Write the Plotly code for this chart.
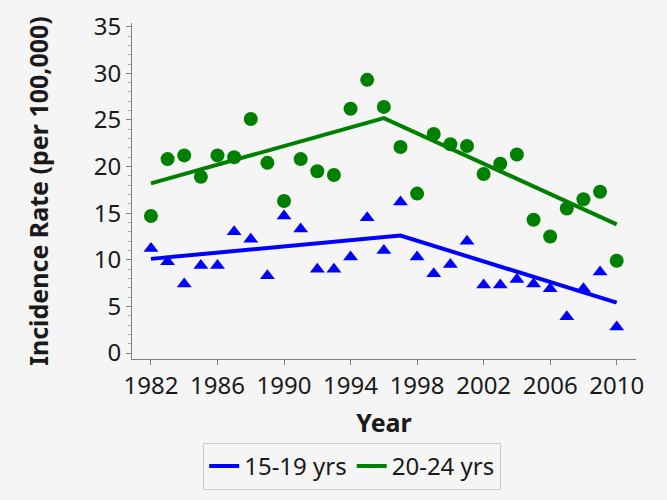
import plotly.graph_objects as go

years = list(range(1982, 2011))

rate_15_19 = [11.2, 9.8, 7.4, 9.4, 9.4, 13.0, 12.2, 8.3, 14.7, 13.3,
              9.0, 9.0, 10.3, 14.5, 11.0, 16.2, 10.3, 8.5, 9.5, 12.0,
              7.3, 7.3, 7.9, 7.4, 6.9, 3.9, 6.9, 8.7, 2.8]
rate_20_24 = [14.7, 20.8, 21.2, 18.9, 21.2, 21.0, 25.1, 20.4, 16.3, 20.8,
              19.5, 19.1, 26.2, 29.3, 26.4, 22.1, 17.1, 23.5, 22.4, 22.2,
              19.2, 20.3, 21.3, 14.3, 12.5, 15.5, 16.5, 17.3, 9.9]

# joinpoint fitted trend lines
fit_years_15_19 = [1982, 1997, 2010]
fit_15_19 = [10.1, 12.6, 5.4]
fit_years_20_24 = [1982, 1996, 2010]
fit_20_24 = [18.2, 25.2, 13.8]

series_names = ["15-19 yrs", "20-24 yrs"]
BLUE = "#0000ff"
GREEN = "#008000"
BG = "#f5f5f5"
FONT = "Noto Sans"

fig = go.Figure()
fig.add_trace(go.Scatter(x=years, y=rate_15_19, mode="markers",
                         marker=dict(symbol="triangle-up", size=13, color=BLUE),
                         showlegend=False, hoverinfo="x+y"))
fig.add_trace(go.Scatter(x=years, y=rate_20_24, mode="markers",
                         marker=dict(symbol="circle", size=14, color=GREEN),
                         showlegend=False, hoverinfo="x+y"))
fig.add_trace(go.Scatter(x=fit_years_15_19, y=fit_15_19, mode="lines",
                         line=dict(color=BLUE, width=4), name=series_names[0]))
fig.add_trace(go.Scatter(x=fit_years_20_24, y=fit_20_24, mode="lines",
                         line=dict(color=GREEN, width=4), name=series_names[1]))

axis_line = "#808080"
fig.update_layout(
    width=667, height=500,
    paper_bgcolor=BG, plot_bgcolor=BG,
    margin=dict(l=132, r=31, t=23, b=141),
    font=dict(family=FONT, color="#1a1a1a", size=24),
    showlegend=True,
    legend=dict(orientation="h", x=0.528, xanchor="center", xref="container",
                y=0.114, yanchor="top", yref="container",
                bordercolor="#cccccc", borderwidth=1, bgcolor=BG,
                font=dict(size=24, family=FONT), itemwidth=30,
                tracegroupgap=0),
    xaxis=dict(range=[1980.86, 2011.16], tickmode="linear", tick0=1982, dtick=4,
               showgrid=False, zeroline=False, showline=True, linecolor=axis_line,
               ticks="outside", ticklen=5, tickcolor=axis_line, automargin=False,
               tickfont=dict(size=24),
               title=dict(text="<b>Year</b>", font=dict(size=25), standoff=14)),
    yaxis=dict(range=[-0.64, 35.4], tickmode="linear", tick0=0, dtick=5,
               showgrid=False, zeroline=False, showline=True, linecolor=axis_line,
               ticks="outside", ticklen=5, tickcolor=axis_line, automargin=False,
               minor=dict(dtick=1, ticks="outside", ticklen=3, tickcolor="#aaaaaa"),
               tickfont=dict(size=24),
               title=dict(text="<b>Incidence Rate (per 100,000)</b>", font=dict(size=25),
                          standoff=37)),
)

fig.write_html(
    "out.html",
    config={"displayModeBar": False},
    post_script="document.body.style.margin='0';document.body.style.background='%s';" % BG,
)
